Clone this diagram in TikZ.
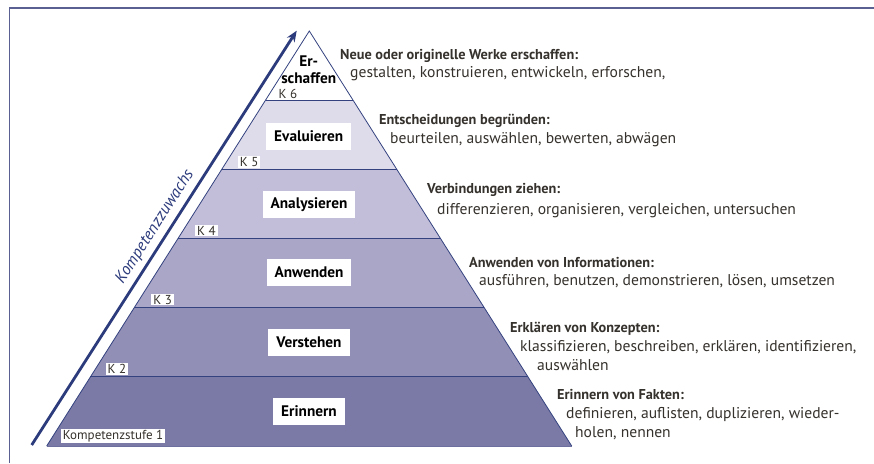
\documentclass[tikz,border=0pt]{standalone}
\usepackage{fontspec}
\setmainfont{PT Sans}
\usetikzlibrary{arrows.meta,calc}
\definecolor{navy}{HTML}{2C3B7C}
\definecolor{edgec}{HTML}{34427F}
\definecolor{framec}{HTML}{5A6091}
\definecolor{cA}{HTML}{7B7AA6}
\definecolor{cB}{HTML}{918FB6}
\definecolor{cC}{HTML}{A9A6C7}
\definecolor{cD}{HTML}{C2BED9}
\definecolor{cE}{HTML}{DEDCEB}
\definecolor{txt}{HTML}{35312C}
\tikzset{
  lvlbox/.style={fill=white, inner xsep=8pt, inner ysep=0pt, minimum height=27pt, font=\fontsize{15.3}{17}\selectfont\bfseries, text=black},
  kbox/.style={fill=white, inner xsep=2pt, inner ysep=1.2pt, font=\fontsize{13}{14}\selectfont, text=txt, anchor=south west},
  head/.style={anchor=base west, inner sep=0pt, font=\fontsize{14.3}{16}\selectfont\bfseries, text=txt},
  verbs/.style={anchor=base west, inner sep=0pt, font=\fontsize{15.6}{17}\selectfont, text=txt},
  sepline/.style={draw=edgec, line width=1.3pt},
}
\begin{document}
\begin{tikzpicture}[x=1pt,y=-1pt]
\useasboundingbox (0,0) rectangle (874,463);
\fill[white] (0,0) rectangle (874,463);
\draw[framec, line width=1.6pt] (9.5,463) -- (9.5,8) -- (874,8);
\coordinate (A) at (309.3,31);
\coordinate (BL) at (46.7,446);
\coordinate (BR) at (571.7,446);
\foreach \k in {1,...,6}{
  \coordinate (L\k) at ($(A)!\k/6!(BL)$);
  \coordinate (R\k) at ($(A)!\k/6!(BR)$);
}
\fill[cE] (L1) -- (L2) -- (R2) -- (R1) -- cycle;
\fill[cD] (L2) -- (L3) -- (R3) -- (R2) -- cycle;
\fill[cC] (L3) -- (L4) -- (R4) -- (R3) -- cycle;
\fill[cB] (L4) -- (L5) -- (R5) -- (R4) -- cycle;
\fill[cA] (L5) -- (L6) -- (R6) -- (R5) -- cycle;
\foreach \k in {1,...,5}{ \draw[sepline] (L\k) -- (R\k); }
\draw[edgec, line width=0.8pt] (BR) -- (A) -- (BL);
\draw[cA!80!edgec, line width=0.6pt] (BL) -- (BR);
% arrow
\coordinate (a0) at (31.7,445);
\coordinate (a1) at (296.7,30.7);
\draw[navy, line width=2.8pt, -{Stealth[length=11pt,width=9pt]}] (a0) -- (a1);
\node[rotate=57.4, text=navy, font=\fontsize{16.5}{17}\selectfont\itshape] (kz) at (155,227) {Kompetenzzuwachs};
% level labels
\node[align=center, inner sep=0pt, font=\fontsize{15.3}{17.5}\selectfont\bfseries] (l6) at (308.7,70) {Er-\\schaffen};
\node[lvlbox] (l5) at (308.7,136) {Evaluieren};
\node[lvlbox] (l4) at (309,204.5) {Analysieren};
\node[lvlbox] (l3) at (309,272.5) {Anwenden};
\node[lvlbox] (l2) at (309,342) {Verstehen};
\node[lvlbox] (l1) at (309,411) {Erinnern};
% K labels
\node[kbox] (k6) at ($(L1)+(11,-0.5)$) {K 6};
\node[kbox] (k5) at ($(L2)+(16,-1.5)$) {K 5};
\node[kbox] (k4) at ($(L3)+(17,-2)$) {K 4};
\node[kbox] (k3) at ($(L4)+(17,-2)$) {K 3};
\node[kbox] (k2) at ($(L5)+(15,-2)$) {K 2};
\node[kbox] (k1) at ($(L6)+(14,-3)$) {Kompetenzstufe 1};
% descriptions
\node[head] (h6) at (340,59) {Neue oder originelle Werke erschaffen:};
\node[verbs] (v6) at (350,77.5) {gestalten, konstruieren, entwickeln, erforschen,};
\node[head] (h5) at (379,124.5) {Entscheidungen begründen:};
\node[verbs] (v5) at (390,143.5) {beurteilen, auswählen, bewerten, abwägen};
\node[head] (h4) at (427,193) {Verbindungen ziehen:};
\node[verbs] (v4) at (437,214) {differenzieren, organisieren, vergleichen, untersuchen};
\node[head] (h3) at (469,267.7) {Anwenden von Informationen:};
\node[verbs] (v3) at (479,285.7) {ausführen, benutzen, demonstrieren, lösen, umsetzen};
\node[head] (h2) at (510,332.7) {Erklären von Konzepten:};
\node[verbs] (v2a) at (520,351.7) {klassifizieren, beschreiben, erklären, identifizieren,};
\node[verbs] (v2b) at (537,370.7) {auswählen};
\node[head] (h1) at (557,399.3) {Erinnern von Fakten:};
\node[verbs] (v1a) at (566,418.3) {definieren, auflisten, duplizieren, wieder-};
\node[verbs] (v1b) at (575,437.7) {holen, nennen};
\end{tikzpicture}
\end{document}
